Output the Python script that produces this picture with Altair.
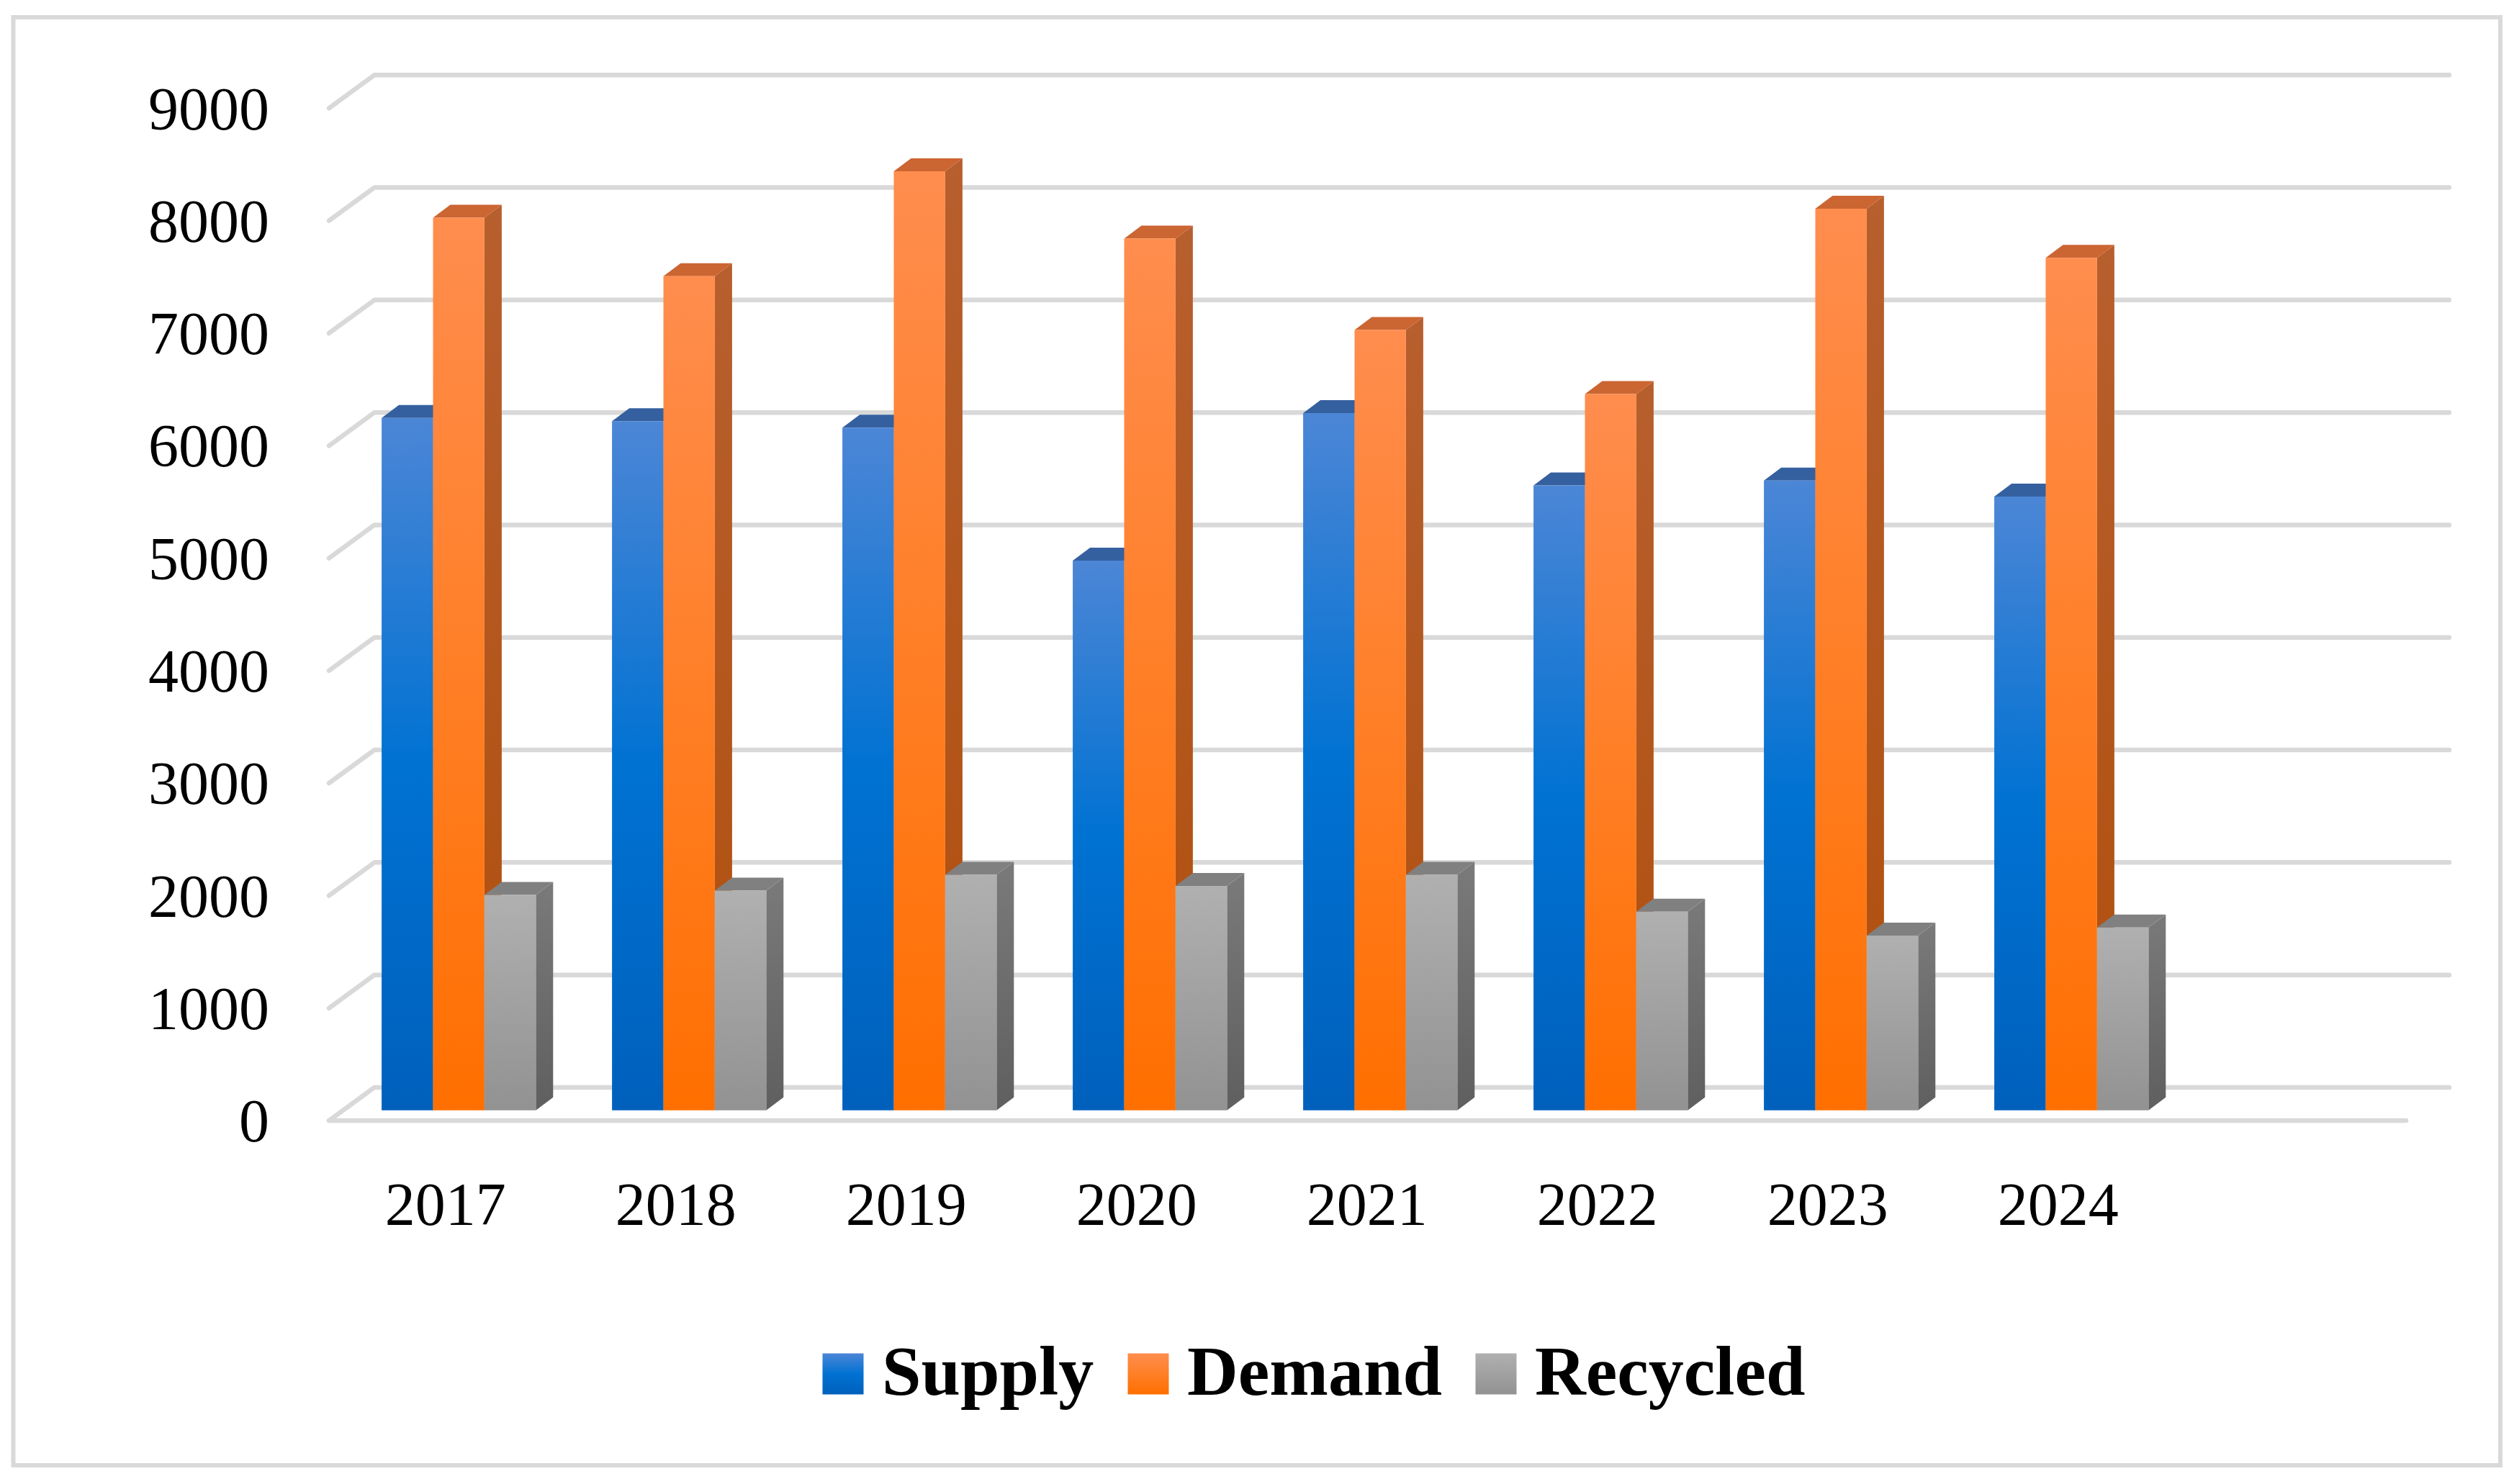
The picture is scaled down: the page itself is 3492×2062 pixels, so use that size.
import altair as alt
import pandas as pd

years = [2017, 2018, 2019, 2020, 2021, 2022, 2023, 2024]
supply = [6154, 6125, 6068, 4886, 6197, 5555, 5598, 5455]
demand = [7934, 7415, 8348, 7749, 6937, 6367, 8015, 7578]
recycled = [1915, 1952, 2094, 1994, 2094, 1766, 1553, 1624]
series_names = ["Supply", "Demand", "Recycled"]
series_values = [supply, demand, recycled]
y_ticks = [0, 1000, 2000, 3000, 4000, 5000, 6000, 7000, 8000, 9000]

# pixel calibration of the picture (view frame runs L..R, T..B)
L, R, T, B = 18.5, 3473.0, 24.0, 2036.0
X0, XK = 637.2, 320.0     # px of 2017, px per year
Y0, YK = 1542.7, 0.1563   # px of value 0 at the bars' plane, px per unit
xv = lambda px: 2017 + (px - X0) / XK
BW = 71.4 / XK            # bar width in years
DX = 24.0 / XK            # depth of bars in years
DY = 18.0 / YK            # depth of bars in value units
WALL, FRONT = 203, -92    # value shift of back wall and floor front edge


def grad(*stops):
    s = ",".join("{offset:%s,color:'%s'}" % st for st in stops)
    return {"expr": "{gradient:'linear',x1:0,y1:0,x2:0,y2:1,stops:[%s]}" % s}


def lingrad(a, b):
    return alt.Gradient(gradient="linear", x1=0, y1=0, x2=0, y2=1,
                        stops=[alt.GradientStop(offset=0, color=a), alt.GradientStop(offset=1, color=b)])


front_grad = [
    grad((0, "#4c86d6"), (0.5, "#0072d2"), (1, "#0060bc")),
    grad((0, "#ff8d4e"), (0.5, "#ff7f27"), (1, "#ff6f00")),
    grad((0, "#b0b0b0"), (1, "#929292")),
]
side_fill = [lingrad("#0a4f99", "#0a4f99"), lingrad("#b75f2e", "#b04f0c"), lingrad("#7a7a7a", "#5f5f5f")]
top_fill = ["#35609f", "#cb6532", "#808080"]

front, sides, tops = [], [[], [], []], [[], [], []]
for s, (name, vals) in enumerate(zip(series_names, series_values)):
    for yr, v in zip(years, vals):
        x0 = yr + (s - 1.5) * BW
        x1 = x0 + BW
        front.append({"series": name, "x0": x0, "x1": x1, "v": v, "base": 0})
        sides[s] += [
            {"bar": yr, "x": x1, "yt": v, "yb": 0},
            {"bar": yr, "x": x1 + DX, "yt": v + DY, "yb": DY},
        ]
        tops[s] += [
            {"bar": yr, "x": x0, "yt": v, "yb": v},
            {"bar": yr, "x": x0 + DX, "yt": v + DY, "yb": v},
            {"bar": yr, "x": x1, "yt": v + DY, "yb": v},
            {"bar": yr, "x": x1 + DX, "yt": v + DY, "yb": v + DY},
        ]

grid = []
for t in y_ticks:
    grid += [
        {"tick": t, "i": 0, "x": xv(457), "y": t + FRONT},
        {"tick": t, "i": 1, "x": xv(520), "y": t + WALL},
        {"tick": t, "i": 2, "x": xv(3402), "y": t + WALL},
    ]
grid += [
    {"tick": -1, "i": 0, "x": xv(457), "y": FRONT},
    {"tick": -1, "i": 1, "x": xv(3342), "y": FRONT},
]

xs = alt.Scale(domain=[xv(L), xv(R)], nice=False, zero=False)
ys = alt.Scale(domain=[(Y0 - B) / YK, (Y0 - T) / YK], nice=False, zero=False)

x_axis = alt.Axis(
    values=years, format="d", title=None, grid=False, domain=False, ticks=False,
    labelFont="Liberation Serif", labelFontSize=84, labelColor="#000000",
    offset=-436, labelPadding=35, labelOffset=-19, labelFlush=False, labelOverlap=False,
)
y_axis = alt.Axis(
    values=y_ticks, format="d", title=None, grid=False, domain=False, ticks=False,
    labelFont="Liberation Serif", labelFontSize=84, labelColor="#000000",
    offset=-357, labelPadding=2, labelOffset=18, labelFlush=False, labelOverlap=False,
)

grid_layer = alt.Chart(pd.DataFrame(grid)).mark_line(
    color="#d9d9d9", strokeWidth=6.5, strokeCap="round", strokeJoin="round"
).encode(
    x=alt.X("x:Q", scale=xs, axis=x_axis),
    y=alt.Y("y:Q", scale=ys, axis=y_axis),
    detail="tick:N",
    order="i:Q",
)


def face(rows, fill):
    return alt.Chart(pd.DataFrame(rows)).mark_area(color=fill, orient="vertical").encode(
        x=alt.X("x:Q", scale=xs, axis=x_axis),
        y=alt.Y("yt:Q", scale=ys, axis=y_axis, stack=None),
        y2="yb:Q",
        detail="bar:N",
    )


layers = [grid_layer]
for s in range(3):
    layers.append(face(sides[s], side_fill[s]))
    layers.append(face(tops[s], top_fill[s]))

front_layer = alt.Chart(pd.DataFrame(front)).mark_rect().encode(
    x=alt.X("x0:Q", scale=xs, axis=x_axis),
    x2="x1:Q",
    y=alt.Y("v:Q", scale=ys, axis=y_axis),
    y2="base:Q",
    color=alt.Color(
        "series:N",
        scale=alt.Scale(domain=series_names, range=front_grad),
        legend=alt.Legend(
            title=None, orient="none", direction="horizontal", columns=3,
            legendX=1143 - L - 21, legendY=1860 - T,
            symbolType="square", symbolSize=3249, symbolStrokeWidth=0,
            labelFont="Liberation Serif", labelFontWeight="bold", labelFontSize=98,
            labelColor="#000000", labelOffset=5, columnPadding=26,
            labelLimit=600,
        ),
    ),
)
layers.append(front_layer)

chart = alt.layer(*layers).properties(
    width=R - L, height=B - T,
    padding={"left": L - 8, "top": T - 8, "right": 10, "bottom": 10},
    autosize=alt.AutoSizeParams(type="none"),
    background="#ffffff",
).configure_view(stroke="#d9d9d9", strokeWidth=6)

chart.save("out.html", embed_options={"renderer": "svg", "actions": False})
